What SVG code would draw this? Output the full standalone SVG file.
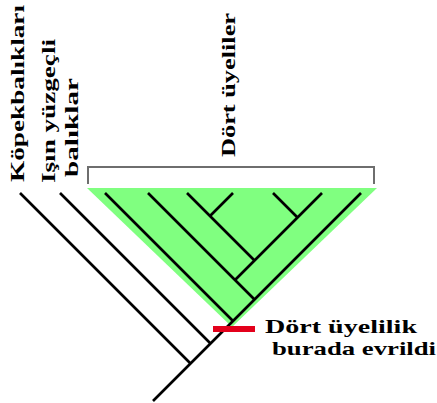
<svg xmlns="http://www.w3.org/2000/svg" width="437" height="403" viewBox="0 0 437 403">
  <style>
    .lbl { font-weight: bold; font-size: 19px; fill: #000; }
    .branch { stroke: #000; stroke-width: 2.6; fill: none; stroke-linecap: butt; }
    .bracket { stroke: #6e6e6e; stroke-width: 2; fill: none; }
  </style>
  <rect width="437" height="403" fill="#fff"/>

  <g font-family="'Liberation Serif', 'DejaVu Serif', serif">
  <!-- tetrapod clade shading -->
  <g id="tetrapod-clade">
    <polygon points="87,188 377,188 232,327" fill="#80ff80"/>
    <polyline class="bracket" points="88,184 88,167 374,167 374,184"/>
    <text class="lbl" transform="translate(235,157) rotate(-90)" textLength="144" lengthAdjust="spacingAndGlyphs">Dört üyeliler</text>
  </g>

  <g id="connectors">
    <!-- main stem to the tetrapod tip on the right -->
    <line class="branch" x1="361" y1="193" x2="153" y2="401"/>
    <!-- outgroups -->
    <line class="branch" x1="20" y1="193" x2="190.5" y2="363.5"/>
    <line class="branch" x1="60" y1="193" x2="210.5" y2="343.5"/>
    <!-- tetrapod branches -->
    <line class="branch" x1="105" y1="193" x2="233" y2="321"/>
    <line class="branch" x1="148" y1="193" x2="254.5" y2="299.5"/>
    <line class="branch" x1="322" y1="193" x2="235" y2="280"/>
    <line class="branch" x1="187" y1="193" x2="254.5" y2="260.5"/>
    <line class="branch" x1="233" y1="193" x2="210" y2="216"/>
    <line class="branch" x1="273" y1="193" x2="297.5" y2="217.5"/>
  </g>

  <g id="sharks">
    <text class="lbl" transform="translate(24,182) rotate(-90)" textLength="177" lengthAdjust="spacingAndGlyphs">Köpekbalıkları</text>
  </g>
  <g id="ray-finned">
    <text class="lbl" transform="translate(55,183) rotate(-90)" textLength="144" lengthAdjust="spacingAndGlyphs">Işın yüzgeçli</text>
    <text class="lbl" transform="translate(78,177) rotate(-90)" textLength="99" lengthAdjust="spacingAndGlyphs">balıklar</text>
  </g>

  <g id="limb-origin">
    <rect x="213" y="326" width="42" height="6" fill="#e3001b"/>
    <text class="lbl" x="265" y="333" textLength="152" lengthAdjust="spacingAndGlyphs">Dört üyelilik</text>
    <text class="lbl" x="272" y="355" textLength="164" lengthAdjust="spacingAndGlyphs">burada evrildi</text>
  </g>
  </g>
</svg>
